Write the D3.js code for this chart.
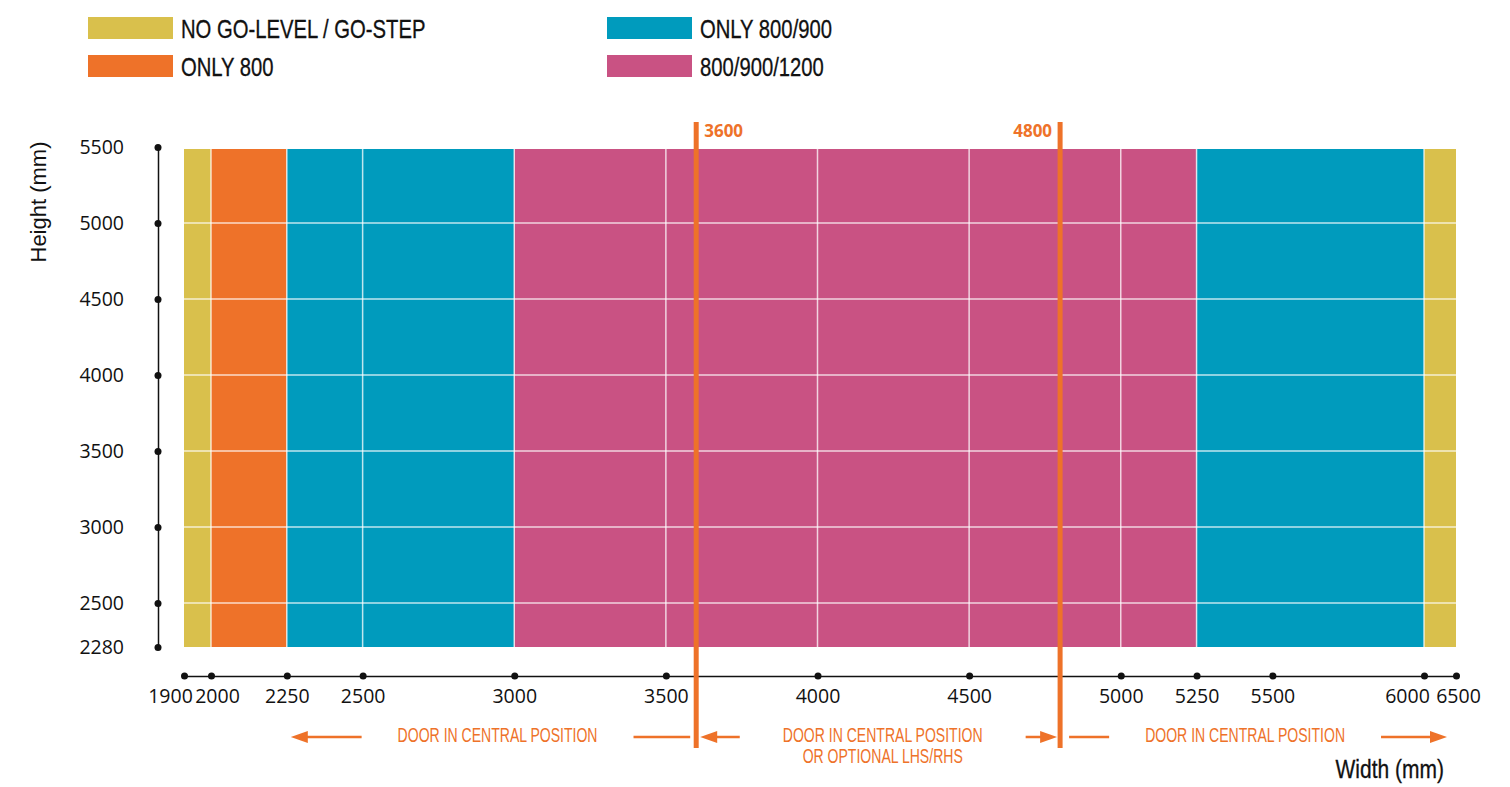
<!DOCTYPE html>
<html>
<head>
<meta charset="utf-8">
<script src="https://cdn.jsdelivr.net/npm/d3@7"></script>
<style>
  html, body { margin: 0; padding: 0; background: #fff; }
  svg { display: block; }
</style>
</head>
<body>
<svg id="chart" width="1510" height="787"></svg>
<script>
// ---------------- data ----------------
const categories = ["NO GO-LEVEL / GO-STEP", "ONLY 800", "ONLY 800/900", "800/900/1200"];
const legendOrder = [0, 2, 1, 3]; // reading order: col1 row1, col2 row1, col1 row2, col2 row2
const xTicks = [1900, 2000, 2250, 2500, 3000, 3500, 4000, 4500, 5000, 5250, 5500, 6000, 6500];
const yTicks = [2280, 2500, 3000, 3500, 4000, 4500, 5000, 5500];
const bandStart = [1900, 2000, 2250, 3000, 5250, 6000];
const bandEnd = [2000, 2250, 3000, 5250, 6000, 6500];
const bandCategory = [0, 1, 2, 3, 2, 0];
const heightRange = [2280, 5500];
const gridWidths = [2000, 2250, 2500, 3000, 3500, 4000, 4500, 5000, 5250, 6000];
const gridHeights = [2500, 3000, 3500, 4000, 4500, 5000];
const doorLimits = [3600, 4800];
const doorLimitLabels = ["3600", "4800"];
const zoneFrom = [2250, 3600, 4800];
const zoneTo = [3600, 4800, 6500];
const zoneCenter = [2945, 4215, 5410];
const zoneText = [["DOOR IN CENTRAL POSITION"], ["DOOR IN CENTRAL POSITION", "OR OPTIONAL LHS/RHS"], ["DOOR IN CENTRAL POSITION"]];
const zoneHeads = [["left", null], ["left", "right"], [null, "right"]];

// ---------------- styles ----------------
const colors = ["#D9C04C", "#EE7229", "#009BBD", "#C95283"];
const orange = "#EE7229";
const ink = "#111111";
const condensedFont = "'Liberation Sans', Arial, sans-serif";
const tickFont = "'Open Sans', 'Noto Sans', sans-serif";

const svg = d3.select("#chart");

// ---------------- scales ----------------
const x = d3.scaleLinear().domain([1900, 2000, 6000, 6500]).range([184, 211, 1424, 1456]);
const y = d3.scaleLinear().domain([2280, 2500, 5500]).range([647, 603, 147]);

// helper for condensed text
function condText(g, tx, ty, str, size, k, anchor, fill, weight) {
  return g.append("text")
    .attr("transform", `translate(${tx},${ty}) scale(${k},1)`)
    .attr("text-anchor", anchor || "start")
    .attr("font-family", condensedFont)
    .attr("font-size", size)
    .attr("font-weight", weight || "normal")
    .attr("fill", fill || ink)
    .text(str);
}

// ---------------- legend ----------------
const legend = svg.append("g");
legendOrder.forEach((ci, i) => {
  const col = i % 2, row = Math.floor(i / 2);
  const lx = col === 0 ? 88 : 607;
  const ly = 17 + row * 38;
  legend.append("rect").attr("x", lx).attr("y", ly).attr("width", 85).attr("height", 22).attr("fill", colors[ci]);
  condText(legend, lx + 93, ly + 20.5, categories[ci], 25, 0.81, "start", ink)
    .attr("stroke", ink).attr("stroke-width", 0.3);
});

// ---------------- bands ----------------
const plot = svg.append("g");
plot.selectAll("rect.band")
  .data(bandStart.map((s, i) => ({ s, e: bandEnd[i], c: bandCategory[i] })))
  .join("rect")
  .attr("class", "band")
  .attr("x", d => x(d.s))
  .attr("width", d => x(d.e) - x(d.s))
  .attr("y", y(heightRange[1]) + 2)
  .attr("height", y(heightRange[0]) - y(heightRange[1]) - 2)
  .attr("fill", d => colors[d.c]);

// grid lines
plot.selectAll("line.vgrid").data(gridWidths).join("line")
  .attr("x1", d => x(d)).attr("x2", d => x(d))
  .attr("y1", y(heightRange[1]) + 2).attr("y2", y(heightRange[0]))
  .attr("stroke", "#fff").attr("stroke-opacity", 0.75).attr("stroke-width", 1.5);
plot.selectAll("line.hgrid").data(gridHeights).join("line")
  .attr("x1", x(1900)).attr("x2", x(6500))
  .attr("y1", d => y(d)).attr("y2", d => y(d))
  .attr("stroke", "#fff").attr("stroke-opacity", 0.75).attr("stroke-width", 1.5);

// ---------------- y axis ----------------
const yAxisX = 158;
const yAxis = d3.axisLeft(y).tickValues(yTicks).tickSize(0).tickPadding(34).tickSizeOuter(0).tickFormat(d3.format("d"));
const yg = svg.append("g").attr("transform", `translate(${yAxisX},0)`).call(yAxis);
yg.select(".domain").attr("stroke", ink).attr("stroke-width", 1.5);
yg.selectAll(".tick text").attr("font-family", tickFont).attr("font-size", 19.5).attr("fill", ink).attr("dy", "0.34em");
yg.selectAll(".tick").append("circle").attr("r", 3.5).attr("fill", ink);

svg.append("text")
  .attr("transform", `translate(46,202) rotate(-90)`)
  .attr("text-anchor", "middle")
  .attr("font-family", "'Liberation Sans', Arial, sans-serif")
  .attr("font-size", 22)
  .attr("fill", ink)
  .text("Height (mm)");

// ---------------- x axis ----------------
const xAxisY = 676;
const labelNudge = { 1900: -14, 2000: 6, 6000: -17, 6500: 2 };
const xAxis = d3.axisBottom(x).tickValues(xTicks).tickSize(0).tickPadding(12).tickSizeOuter(0).tickFormat(d3.format("d"));
const xg = svg.append("g").attr("transform", `translate(0,${xAxisY})`).call(xAxis);
xg.select(".domain").attr("stroke", ink).attr("stroke-width", 1.5);
xg.selectAll(".tick text").attr("font-family", tickFont).attr("font-size", 19.5).attr("fill", ink)
  .attr("dy", "0.76em")
  .attr("dx", d => labelNudge[d] || 0);
xg.selectAll(".tick").append("circle").attr("r", 3.5).attr("fill", ink);

condText(svg, 1444, 778, "Width (mm)", 25, 0.84, "end", ink).attr("stroke", ink).attr("stroke-width", 0.3);

// ---------------- door limit lines ----------------
const lineTop = y(heightRange[1]) - 25;
const lineBottom = xAxisY + 72;
svg.selectAll("line.door").data(doorLimits).join("line")
  .attr("x1", d => x(d)).attr("x2", d => x(d))
  .attr("y1", lineTop).attr("y2", lineBottom)
  .attr("stroke", orange).attr("stroke-width", 5);
doorLimits.forEach((d, i) => {
  svg.append("text")
    .attr("x", i === 0 ? x(d) + 8 : x(d) - 8)
    .attr("y", lineTop + 15)
    .attr("text-anchor", i === 0 ? "start" : "end")
    .attr("font-family", tickFont)
    .attr("font-weight", "bold")
    .attr("font-size", 17)
    .attr("fill", orange)
    .text(doorLimitLabels[i]);
});

// ---------------- zone annotations ----------------
const annY = 737;
const ann = svg.append("g");
function arrowHead(tipX, dir) {
  const L = 17, H = 6;
  const bx = dir === "left" ? tipX + L : tipX - L;
  ann.append("path")
    .attr("d", `M${tipX},${annY} L${bx},${annY - H} L${bx},${annY + H} Z`)
    .attr("fill", orange);
}
zoneFrom.forEach((f, i) => {
  const cx = x(zoneCenter[i]);
  const lines = zoneText[i];
  const texts = lines.map((t, j) => condText(ann, cx, annY + 5 + j * 21, t, 19.5, 0.72, "middle", orange));
  const halfW = Math.max(...texts.map(t => t.node().getBBox().width)) * 0.72 / 2;
  const leftEnd = x(f), rightEnd = x(zoneTo[i]);
  const gap = i === 1 ? 43 : 36;
  const [lh, rh] = zoneHeads[i];
  // left segment
  const lStart = lh ? leftEnd + 4 : leftEnd + 9;
  const lStop = cx - halfW - gap;
  ann.append("line").attr("x1", lStart + (lh ? 10 : 0)).attr("x2", lStop)
    .attr("y1", annY).attr("y2", annY).attr("stroke", orange).attr("stroke-width", 2.5);
  if (lh) arrowHead(lStart, "left");
  // right segment
  const rStart = cx + halfW + gap;
  const rStop = rh ? rightEnd - (i === 2 ? 9 : 3) : rightEnd - 6;
  ann.append("line").attr("x1", rStart).attr("x2", rStop - (rh ? 10 : 0))
    .attr("y1", annY).attr("y2", annY).attr("stroke", orange).attr("stroke-width", 2.5);
  if (rh) arrowHead(rStop, "right");
});
</script>
</body>
</html>
